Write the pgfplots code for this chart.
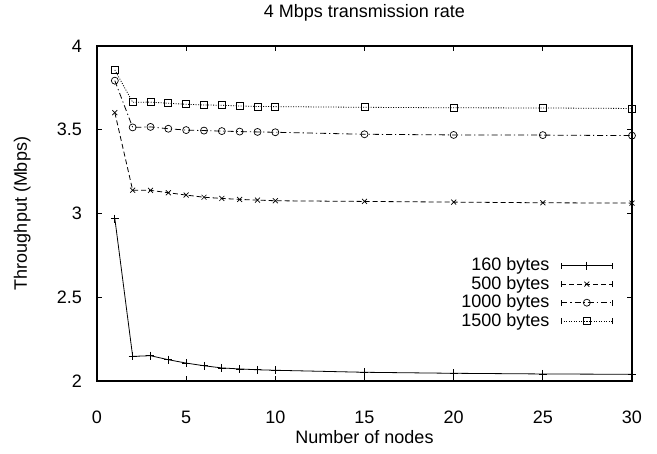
\documentclass[border=0pt]{standalone}
\usepackage{pgfplots}
\pgfplotsset{compat=1.18}
\usepackage{fontspec}
\setmainfont{Liberation Sans}

% Throughput per packet size, against the number of nodes
\pgfplotstableread{
n    t160   t500   t1000  t1500
1    2.970  3.602  3.793  3.857
2    2.147  3.139  3.514  3.664
3    2.151  3.138  3.517  3.665
4    2.127  3.124  3.506  3.658
5    2.107  3.110  3.498  3.652
6    2.091  3.097  3.495  3.648
7    2.078  3.090  3.492  3.646
8    2.072  3.084  3.489  3.642
9    2.067  3.080  3.487  3.639
10   2.064  3.076  3.485  3.638
15   2.052  3.072  3.473  3.634
20   2.046  3.068  3.469  3.631
25   2.042  3.064  3.468  3.630
30   2.040  3.062  3.465  3.627
}\datatable

\newcommand{\labelfont}{\fontsize{18}{21}\selectfont}

\begin{document}
\labelfont
\begin{tikzpicture}
\useasboundingbox (-97pt,-73pt) rectangle (560pt,381pt);
\begin{axis}[
  at={(0pt,0pt)}, anchor=south west,
  scale only axis, width=535pt, height=335pt,
  xmin=0, xmax=30, ymin=2, ymax=4,
  clip=false,
  xtick={0,5,...,30}, ytick={2,2.5,...,4},
  tick align=inside, major tick length=5pt,
  every tick/.style={black, line width=0.8pt},
  axis line style={line width=1.5pt},
  /pgf/number format/assume math mode=true,
  tick label style={font=\labelfont, inner sep=0pt},
  xticklabel style={anchor=center, yshift=-36pt},
  yticklabel style={anchor=east, xshift=-15pt},
  legend cell align=right,
  legend plot pos=right,
  legend style={draw=none, fill=none, at={(axis description cs:0.970,0.379)},
    anchor=north east, row sep=-0.2pt, column sep=10pt,
    nodes={inner sep=1.5pt, font=\labelfont}},
  legend image code/.code={
    \draw[mark repeat=2, mark phase=2, #1]
      plot coordinates {(0pt,0pt) (25.5pt,0pt) (51pt,0pt)};
    \draw[solid, line width=0.7pt] (0pt,-3pt) -- (0pt,3pt) (51pt,-3pt) -- (51pt,3pt);
  },
  every axis plot/.append style={black, line width=0.8pt,
    mark options={solid, line width=0.7pt}},
]
\addplot[solid, mark=+, mark size=4pt] table[x=n, y=t160] {\datatable};
\addlegendentry{160 bytes}
\addplot[dash pattern=on 5pt off 3pt, mark=x, mark size=3.5pt] table[x=n, y=t500] {\datatable};
\addlegendentry{500 bytes}
\addplot[dash pattern=on 6pt off 3pt on 1.2pt off 3pt, mark=o, mark size=3.5pt] table[x=n, y=t1000] {\datatable};
\addlegendentry{1000 bytes}
\addplot[dash pattern=on 1pt off 1.5pt, mark=square, mark size=3.5pt] table[x=n, y=t1500] {\datatable};
\addlegendentry{1500 bytes}

% title and axis labels
\node[font=\labelfont, inner sep=0pt] at (axis description cs:0.5,1.0985) {4 Mbps transmission rate};
\node[font=\labelfont, inner sep=0pt] at (axis description cs:0.5,-0.167) {Number of nodes};
\node[font=\labelfont, inner sep=0pt, rotate=90] at (axis description cs:-0.140,0.5) {Throughput (Mbps)};
\end{axis}
\end{tikzpicture}
\end{document}
